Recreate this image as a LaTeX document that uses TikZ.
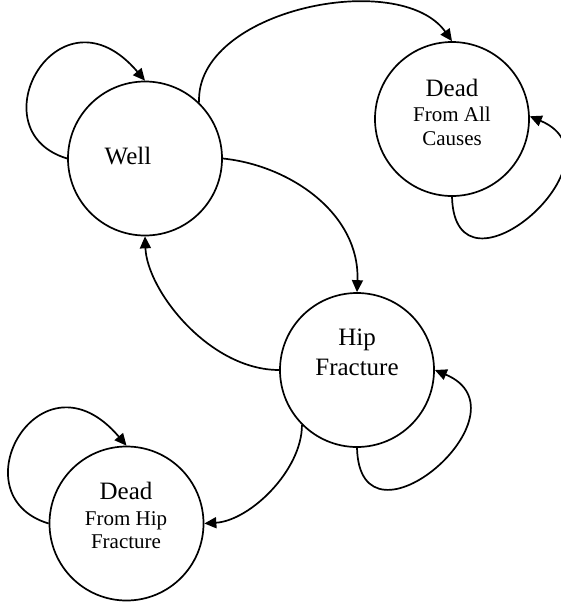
\documentclass[tikz,border=0pt]{standalone}
\usepackage{fontspec}
\setmainfont{Liberation Serif}
\usetikzlibrary{arrows.meta}
\begin{document}
\begin{tikzpicture}[x=1pt,y=-1pt,
  state/.style={circle,draw,line width=1.7pt,minimum size=154pt,inner sep=0pt},
  big/.style={font=\fontsize{25}{30}\selectfont,anchor=base,inner sep=0pt},
  small/.style={font=\fontsize{21}{25}\selectfont,anchor=base,inner sep=0pt},
  arr/.style={line width=1.7pt,-{Triangle[length=12pt,width=11pt]}}]
\useasboundingbox (0,0) rectangle (561,603);
\node[state] (well) at (145,158.5) {};
\node[state] (deadA) at (452,119) {};
\node[state] (hip) at (357,370) {};
\node[state] (deadH) at (126.5,523.5) {};
\node[big] (wellT) at (128,164) {Well};
\node[big] (deadA1) at (452,96.7) {Dead};
\node[small] (deadA2) at (452,121.7) {From All};
\node[small] (deadA3) at (452,145.7) {Causes};
\node[big] (hip1) at (357,345.7) {Hip};
\node[big] (hip2) at (357,375.7) {Fracture};
\node[big] (deadH1) at (126,499) {Dead};
\node[small] (deadH2) at (126,525) {From Hip};
\node[small] (deadH3) at (126,548) {Fracture};
% self loops
\draw[arr] (well.180) .. controls +(-93,-28) and +(-86,-101) .. (well.90);
\draw[arr] (deadH.180) .. controls +(-93,-28) and +(-86,-101) .. (deadH.90);
\draw[arr] (deadA.270) .. controls +(3,114) and +(100,42) .. (deadA.2);
\draw[arr] (hip.270) .. controls +(3,114) and +(100,42) .. (hip.0);
% transitions
\draw[arr] (well.46) .. controls +(-4,-93) and +(-52,-73) .. (deadA.90);
\draw[arr] (well.0) .. controls +(68,7) and +(3,-78) .. (hip.90);
\draw[arr] (hip.180) .. controls +(-70,0) and +(2,54) .. (well.270);
\draw[arr] (hip.225) .. controls +(0,45) and +(46,-3) .. (deadH.0);
\end{tikzpicture}
\end{document}
